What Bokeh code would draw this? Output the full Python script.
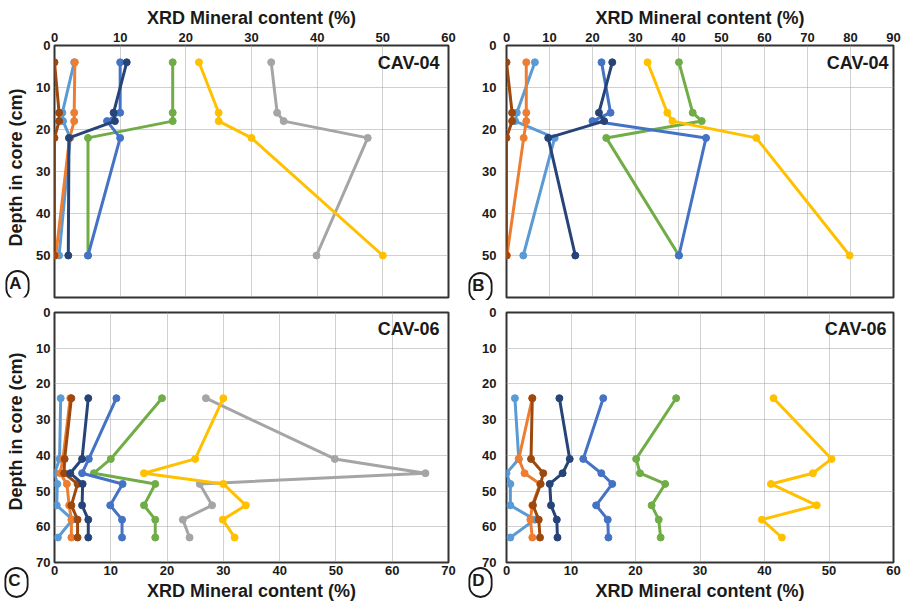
import math
from bokeh.plotting import figure
from bokeh.models import Range1d, FixedTicker, Label
from bokeh.layouts import gridplot
from bokeh.embed import file_html
from bokeh.resources import INLINE

# ---------------- data ----------------
depth_04 = [4, 16, 18, 22, 50]
depth_06 = [24, 41, 45, 48, 54, 58, 63]

# Panel A (CAV-04)
a_grey = [33.0, 33.9, 34.9, 47.7, 39.9]
a_green = [18.0, 18.0, 18.0, 5.1, 5.1]
a_blue = [10.0, 10.0, 8.0, 10.0, 5.1]
a_lightblue = [3.0, 1.2, 1.3, 2.4, 0.7]
a_orange = [3.1, 3.0, 3.0, 2.3, 0.2]
a_brown = [0.0, 0.7, 0.7, 0.0, 0.0]
a_navy = [11.0, 9.0, 9.2, 2.2, 2.1]
a_yellow = [22.0, 25.0, 25.0, 30.0, 50.0]

# Panel B (CAV-04)
b_green = [40.1, 43.3, 45.4, 23.2, 40.1]
b_blue = [22.1, 24.2, 20.0, 46.4, 40.1]
b_lightblue = [6.6, 2.4, 2.0, 11.2, 3.9]
b_orange = [4.6, 4.6, 4.6, 4.0, 0.1]
b_brown = [0.0, 1.3, 1.3, 0.0, 0.0]
b_navy = [24.6, 21.5, 22.7, 9.7, 16.0]
b_yellow = [32.8, 37.4, 38.6, 58.1, 79.8]

# Panel C (CAV-06)
c_grey = [26.9, 49.8, 65.9, 25.8, 28.0, 22.8, 24.0]
c_green = [19.1, 10.0, 7.0, 17.9, 15.9, 17.9, 17.9]
c_blue = [11.0, 6.1, 4.9, 12.1, 9.9, 12.0, 12.0]
c_lightblue = [1.1, 0.9, 0.0, 0.5, 0.4, 3.2, 0.6]
c_orange = [2.8, 1.5, 1.0, 2.2, 2.6, 3.0, 3.0]
c_brown = [3.0, 1.8, 1.7, 4.1, 3.0, 4.1, 4.1]
c_navy = [6.0, 4.9, 2.8, 5.0, 4.9, 6.0, 6.0]
c_yellow = [30.0, 25.0, 15.9, 30.0, 34.0, 29.9, 32.0]

# Panel D (CAV-06)
d_green = [26.3, 20.1, 20.7, 24.6, 22.5, 23.6, 23.9]
d_blue = [15.0, 11.9, 14.7, 16.4, 13.9, 15.7, 15.8]
d_lightblue = [1.3, 1.9, 0.0, 0.6, 0.6, 4.4, 0.6]
d_orange = [4.0, 1.9, 2.8, 5.2, 4.0, 3.7, 4.0]
d_brown = [4.0, 3.8, 5.7, 5.3, 4.1, 5.0, 5.2]
d_navy = [8.2, 9.8, 8.7, 6.7, 6.9, 7.8, 7.9]
d_yellow = [41.4, 50.4, 47.5, 41.0, 48.1, 39.6, 42.7]

x_ticks_a = [0, 10, 20, 30, 40, 50, 60]
x_ticks_b = [0, 10, 20, 30, 40, 50, 60, 70, 80, 90]
x_ticks_c = [0, 10, 20, 30, 40, 50, 60, 70]
x_ticks_d = [0, 10, 20, 30, 40, 50, 60]
y_ticks_top = [0, 10, 20, 30, 40, 50]
y_ticks_bottom = [0, 10, 20, 30, 40, 50, 60, 70]

COLORS = {
    "grey": "#A5A5A5", "green": "#70AD47", "blue": "#4472C4",
    "lightblue": "#5B9BD5", "orange": "#ED7D31", "brown": "#9E480E",
    "navy": "#264478", "yellow": "#FFC000",
}

FONT = "Liberation Sans"
X_TITLE = "XRD Mineral content (%)"
Y_TITLE = "Depth in core (cm)"
INK = "#1a1a1a"


def panel(width, height, bl, br, bt, bb, xmax, ymax, xticks, yticks, xloc,
          ylab_standoff, xtick_standoff, xlab_standoff):
    p = figure(width=width, height=height, x_range=Range1d(0, xmax),
               y_range=Range1d(ymax, 0), output_backend="svg",
               toolbar_location=None, x_axis_location=xloc,
               min_border_left=bl, min_border_right=br,
               min_border_top=bt, min_border_bottom=bb)
    p.xaxis.ticker = FixedTicker(ticks=xticks)
    p.yaxis.ticker = FixedTicker(ticks=yticks)
    for ax in (p.xaxis[0], p.yaxis[0]):
        ax.major_tick_line_color = None
        ax.minor_tick_line_color = None
        ax.major_tick_out = 0
        ax.major_tick_in = 0
        ax.minor_tick_out = 0
        ax.axis_line_color = None
        ax.major_label_text_font = FONT
        ax.major_label_text_font_style = "bold"
        ax.major_label_text_font_size = "13px"
        ax.major_label_text_color = INK
        ax.axis_label_text_font = FONT
        ax.axis_label_text_font_style = "bold"
        ax.axis_label_text_font_size = "18px"
        ax.axis_label_text_color = INK
    p.xaxis.major_label_standoff = xtick_standoff
    p.xaxis.axis_label = X_TITLE
    p.xaxis.axis_label_standoff = xlab_standoff
    p.yaxis.major_label_standoff = ylab_standoff
    p.xgrid.ticker = FixedTicker(ticks=xticks)
    p.ygrid.ticker = FixedTicker(ticks=yticks)
    for g in (p.xgrid[0], p.ygrid[0]):
        g.grid_line_color = "#a0a0a0"
        g.grid_line_dash = "1 1"
        g.grid_line_width = 1
    p.outline_line_color = "#333333"
    p.outline_line_width = 2
    p.outline_line_alpha = 1
    p.background_fill_color = "white"
    p.border_fill_color = "white"
    return p


def strip(width, height):
    s = figure(width=width, height=height, x_range=Range1d(0, 1),
               y_range=Range1d(0, 1), output_backend="svg",
               toolbar_location=None, x_axis_type=None, y_axis_type=None,
               min_border=0, title=None)
    s.outline_line_color = None
    s.background_fill_color = "white"
    s.border_fill_color = "white"
    return s


def series(p, depths, values, color):
    p.line(values, depths, line_color=color, line_width=3)
    p.scatter(values, depths, size=7, fill_color=color, line_color=color)


def core_label(p, text, x, y):
    p.add_layout(Label(x=x, y=y, x_units="screen", y_units="screen", text=text,
                       text_font=FONT, text_font_style="bold",
                       text_font_size="18px", text_color=INK,
                       text_align="right", text_baseline="middle"))


def y_title(s, x, y):
    s.add_layout(Label(x=x, y=y, x_units="canvas", y_units="canvas", text=Y_TITLE,
                       text_font=FONT, text_font_style="bold",
                       text_font_size="18px", text_color=INK, angle=math.pi / 2,
                       text_align="center", text_baseline="middle"))


def circ(p, letter, x, y, side=None):
    lab = Label(x=x, y=y, x_units="canvas", y_units="canvas", text=letter,
                text_font=FONT, text_font_style="bold",
                text_font_size="17px", text_color=INK,
                text_align="center", text_baseline="middle",
                border_line_color=INK, border_line_width=1.8,
                background_fill_color="white",
                padding=(3, 7, 3, 7), border_radius=14)
    if side is None:
        p.add_layout(lab)
    else:
        p.add_layout(lab, side)


# left strips (y titles and panel letters A / C)
sA = strip(32, 300)
sC = strip(32, 304)

pA = panel(425, 300, 22, 7, 45, 3, 60, 60, x_ticks_a, y_ticks_top, "above", 4, 4, 2)
pB = panel(447, 300, 47, 9, 45, 3, 90, 60, x_ticks_b, y_ticks_top, "above", 10, 4, 2)
pC = panel(425, 304, 22, 9, 12, 42, 70, 70, x_ticks_c, y_ticks_bottom, "below", 4, 3, 3)
pD = panel(447, 304, 47, 11, 12, 42, 60, 70, x_ticks_d, y_ticks_bottom, "below", 10, 3, 3)

for name, vals in [("grey", a_grey), ("green", a_green), ("blue", a_blue),
                   ("lightblue", a_lightblue), ("orange", a_orange),
                   ("brown", a_brown), ("navy", a_navy), ("yellow", a_yellow)]:
    series(pA, depth_04, vals, COLORS[name])
for name, vals in [("green", b_green), ("blue", b_blue),
                   ("lightblue", b_lightblue), ("orange", b_orange),
                   ("brown", b_brown), ("navy", b_navy), ("yellow", b_yellow)]:
    series(pB, depth_04, vals, COLORS[name])
for name, vals in [("grey", c_grey), ("green", c_green), ("blue", c_blue),
                   ("lightblue", c_lightblue), ("orange", c_orange),
                   ("brown", c_brown), ("navy", c_navy), ("yellow", c_yellow)]:
    series(pC, depth_06, vals, COLORS[name])
for name, vals in [("green", d_green), ("blue", d_blue),
                   ("lightblue", d_lightblue), ("orange", d_orange),
                   ("brown", d_brown), ("navy", d_navy), ("yellow", d_yellow)]:
    series(pD, depth_06, vals, COLORS[name])

# core labels (inside the frames)
core_label(pA, "CAV-04", 385, 235)
core_label(pB, "CAV-04", 382, 235)
core_label(pC, "CAV-06", 385, 234)
core_label(pD, "CAV-06", 380, 234)

# y-axis titles
y_title(sA, 15, 167)
y_title(sC, 15, 131)

# panel letters (side panels are not clipped to the frame)
circ(sA, "A", 17, 285)
circ(sC, "C", 16, 282, "below")
circ(pB, "B", 23, 287, "left")
circ(pD, "D", 23, 282, "left")

grid = gridplot([[sA, pA, pB], [sC, pC, pD]], toolbar_location=None)

open("out.html", "w").write(file_html(grid, INLINE))
